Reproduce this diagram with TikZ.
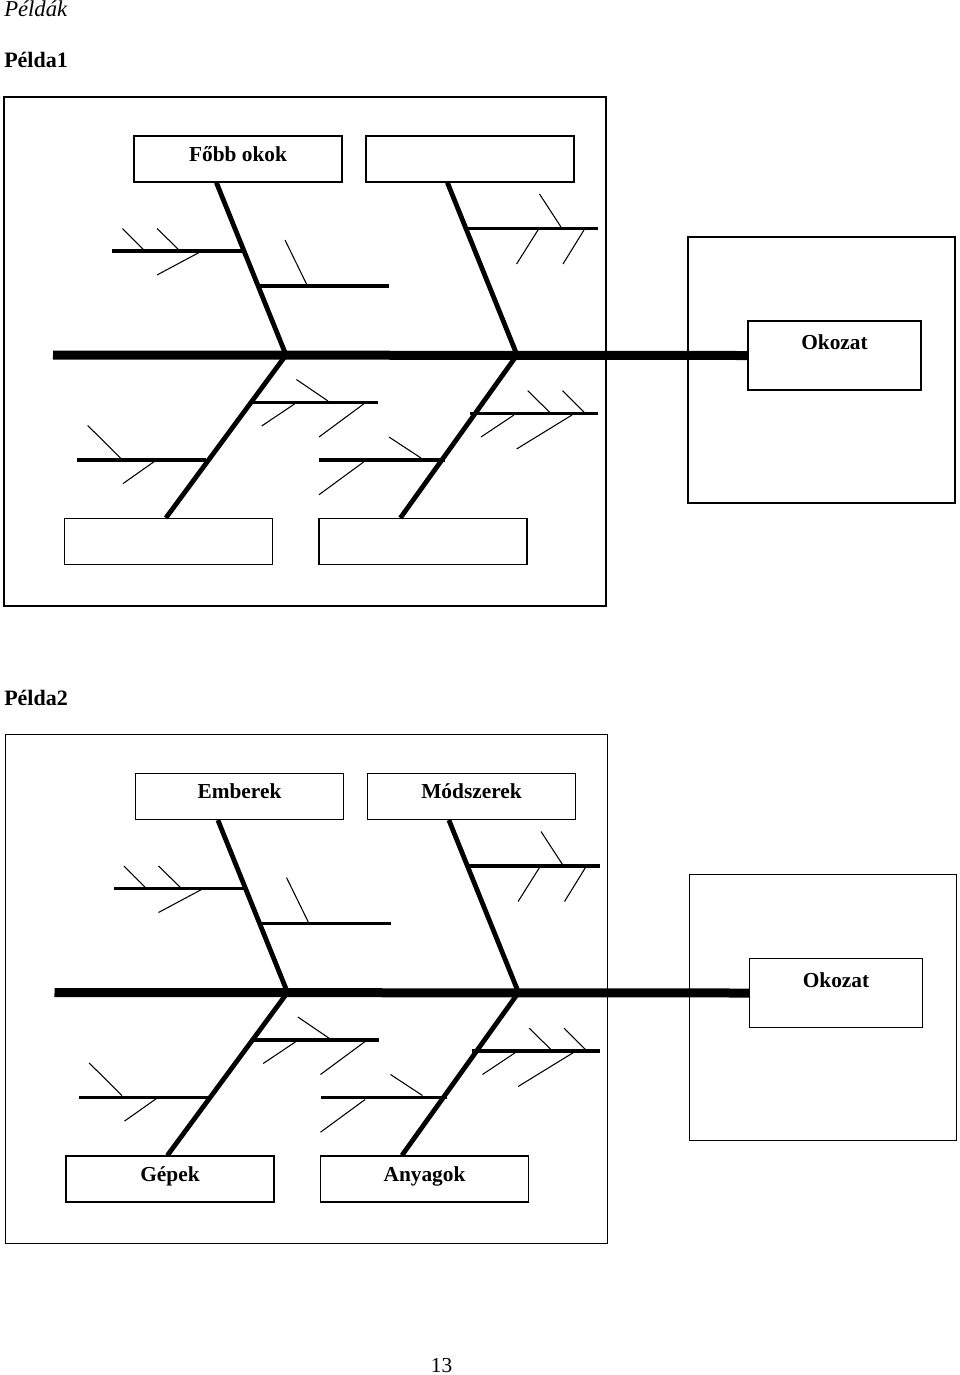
\documentclass[tikz,border=0pt]{standalone}
\usepackage{fontspec}
\setmainfont{Liberation Serif}
\usetikzlibrary{positioning,calc}
\tikzset{
  causebox/.style={draw,line width=0.9pt,minimum width=156pt,minimum height=34.5pt,
    inner sep=0pt,font=\bfseries\fontsize{16}{16}\selectfont,text height=10pt,text depth=7pt},
  effectbox/.style={draw,line width=0.9pt,minimum width=129.75pt,minimum height=51.75pt,
    inner sep=0pt,font=\bfseries\fontsize{16}{16}\selectfont,text height=10pt,text depth=18.8pt},
  areabox/.style={draw,line width=0.9pt,minimum width=200.25pt,minimum height=199.5pt,inner sep=0pt},
  spine/.style={line width=6.75pt},
  bone/.style={line width=3.6pt},
  subbone/.style={line width=2.5pt},
  tick/.style={line width=0.8pt},
  heading/.style={anchor=base west,inner sep=0pt,font=\fontsize{16.5}{16.5}\selectfont}
}
\begin{document}
\begin{tikzpicture}[x=0.75pt,y=-0.75pt]
\useasboundingbox (0,0) rectangle (960,1375);
\node[heading,font=\itshape\fontsize{17}{17}\selectfont] (title) at (4,16) {Példák};
\node[heading,font=\bfseries\fontsize{16.5}{16.5}\selectfont] (ex1) at (4,67) {Példa1};
\node[heading,font=\bfseries\fontsize{16.5}{16.5}\selectfont] (ex2) at (4,705) {Példa2};
\node[anchor=base,inner sep=0pt,font=\fontsize{16}{16}\selectfont] (page) at (441.5,1372) {13};
\foreach \i/\dx/\dy/\ta/\tb/\tc/\td in {1/0/0/Főbb okok/{}/{}/{},2/1.5/637.5/Emberek/Módszerek/Gépek/Anyagok}{
\begin{scope}[shift={(\dx,\dy)}]
% frames
\draw[line width=1pt] (4,97) rectangle (606,606);
\node[areabox] (area\i) at (821.5,370) {};
\node[effectbox] (ok\i) at (834.5,355.5) {Okozat};
\node[causebox] (ta\i) at (238,159) {\ta};
\node[causebox] (tb\i) at (470,159) {\tb};
\node[causebox] (ba\i) at (168.5,541.5) {\tc};
\node[causebox] (bb\i) at (423,541.5) {\td};
% spine and main bones
\coordinate (tail\i) at (53,355);
\coordinate (ja\i) at (286,355);
\coordinate (jb\i) at (517,355);
\draw[spine] (tail\i) -- (ok\i.west);
\draw[bone] ([xshift=62.25pt]ta\i.south west) -- (ja\i);
\draw[bone] ([xshift=61.5pt]tb\i.south west) -- (jb\i);
\draw[bone] (ja\i) -- ([xshift=76.5pt]ba\i.north west);
\draw[bone] (jb\i) -- ([xshift=61.5pt]bb\i.north west);
% sub-causes
\foreach \ya/\xa/\xb in {251/112/242,286/260/389,228.5/466/598,402.5/251/377.5,460/77/206,413.6/470/598,460/319/445}
  \draw[subbone] (\xa,\ya) -- (\xb,\ya);
% small ticks
\foreach \p/\q in {{122.5,228.5}/{144,250},{157,228.5}/{179,250},{157,275}/{200,252},
  {285,240}/{307,285},
  {539.5,194}/{561,227},{516.6,264}/{538,230},{563,264}/{584,230},
  {296.4,379.5}/{328,401},{261.7,426}/{294.5,404},{319,437}/{363.6,404},
  {87.7,425.5}/{120.5,458},{123,483.6}/{155,461},
  {527.7,390.7}/{549.4,412},{562.5,390.7}/{584,412},{481,437}/{514,415},{516.6,449}/{572,415},
  {389,437}/{421,458},{319,494.7}/{363.6,462}}
  \draw[tick] (\p) -- (\q);
\end{scope}
}
\end{tikzpicture}
\end{document}
